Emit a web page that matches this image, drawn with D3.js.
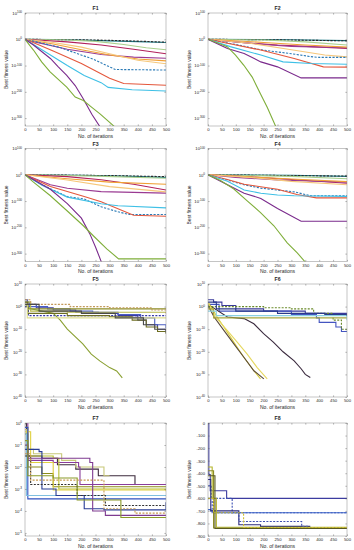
<!DOCTYPE html>
<html>
<head>
<meta charset="utf-8">
<title>Convergence curves F1-F8</title>
<script src="https://d3js.org/d3.v7.min.js"></script>
<style>
body { margin: 0; background: #fff; }
svg text { font-family: "Liberation Sans", Arial, sans-serif; fill: #262626; }
</style>
</head>
<body>
<svg id="chart" width="354" height="550"></svg>
<script>
// ---- data ----
const titles = ["F1", "F2", "F3", "F4", "F5", "F6", "F7", "F8"];
const iterTicks = [0, 50, 100, 150, 200, 250, 300, 350, 400, 450, 500];
const iterDomain = [0, 500];

// log panels store the exponent (value = 10^e)
const bigTicks = [100, 0, -100, -200, -300];
const bigDomain = [-330, 100];
const midTicks = [10, 0, -10, -20, -30, -40];
const midDomain = [-40, 10];
const smallTicks = [0, -1, -2, -3, -4, -5];
const smallDomain = [-5.14, 0];
const linTicks = [0, -100, -200, -300, -400, -500, -600, -700, -800, -900];
const linDomain = [-900, 0];

// F1..F4: teal, black dashed, light green, crimson, purple, orange, light orange,
// blue dashed, red, cyan, dark purple, green
const f1Lines = [
  [[0,0],[100,-1],[200,-3],[300,-6],[400,-9],[500,-12]],
  [[0,0],[100,-1],[200,-2],[300,-4],[400,-7],[500,-11]],
  [[0,0],[150,-3],[250,-8],[350,-20],[430,-32],[500,-40]],
  [[0,0],[150,-10],[270,-22],[385,-38],[500,-55]],
  [[0,0],[30,-9],[150,-38],[270,-58],[385,-68],[500,-72]],
  [[0,0],[100,-18],[200,-40],[300,-60],[400,-75],[500,-82]],
  [[0,0],[100,-12],[200,-30],[300,-55],[400,-80],[500,-93]],
  [[0,0],[50,-12],[120,-30],[240,-75],[320,-115],[500,-117]],
  [[0,0],[50,-22],[100,-45],[200,-92],[300,-148],[350,-168],[500,-175]],
  [[0,0],[60,-40],[150,-100],[210,-138],[270,-165],[295,-183],[380,-192],[500,-197]],
  [[0,0],[30,-22],[90,-73],[118,-105],[148,-137],[178,-176],[207,-227],[237,-285],[267,-335]],
  [[0,0],[30,-41],[59,-86],[89,-124],[148,-182],[178,-220],[207,-233],[237,-259],[267,-285],[320,-335]]
];
const f2Lines = [
  [[0,0],[300,-2],[500,-5]],
  [[0,0],[250,-2],[500,-6]],
  [[0,0],[200,-3],[350,-10],[500,-22]],
  [[0,0],[130,-13],[250,-22],[370,-28],[500,-35]],
  [[0,0],[100,-10],[200,-20],[300,-27],[500,-32]],
  [[0,0],[200,-12],[350,-22],[500,-30]],
  [[0,0],[150,-15],[300,-40],[420,-60],[500,-67]],
  [[0,0],[100,-20],[190,-40],[300,-55],[370,-66],[400,-69],[500,-69]],
  [[0,0],[70,-15],[190,-41],[310,-73],[415,-105],[500,-106]],
  [[0,0],[80,-28],[190,-60],[270,-86],[370,-92],[500,-95]],
  [[0,0],[70,-35],[130,-54],[190,-86],[250,-105],[335,-147],[500,-147]],
  [[0,0],[69,-28],[99,-60],[129,-99],[159,-144],[189,-208],[213,-259],[245,-335]]
];
const f3Lines = [
  [[0,0],[200,-2],[350,-5],[500,-10]],
  [[0,0],[300,-3],[500,-7]],
  [[0,0],[250,-5],[500,-13]],
  [[0,0],[150,-7],[270,-19],[385,-36],[500,-58]],
  [[0,0],[90,-38],[150,-51],[270,-64],[500,-70]],
  [[0,0],[150,-15],[300,-28],[500,-36]],
  [[0,0],[150,-20],[300,-45],[500,-65]],
  [[0,0],[60,-38],[150,-83],[210,-92],[270,-122],[330,-141],[370,-151],[500,-151]],
  [[0,0],[90,-45],[210,-83],[270,-103],[385,-154],[500,-158]],
  [[0,0],[60,-40],[150,-85],[270,-110],[330,-118],[500,-126]],
  [[0,0],[40,-25],[90,-55],[150,-110],[200,-165],[230,-225],[250,-275],[272,-335]],
  [[0,0],[30,-28],[89,-79],[148,-136],[207,-194],[243,-233],[290,-282],[332,-320],[500,-320]]
];
const f4Lines = [
  [[0,0],[300,-2],[500,-6]],
  [[0,0],[500,-5]],
  [[0,0],[300,-6],[500,-15]],
  [[0,0],[150,-8],[300,-18],[500,-32]],
  [[0,0],[100,-10],[250,-20],[500,-28]],
  [[0,0],[150,-8],[300,-16],[500,-26]],
  [[0,0],[150,-10],[300,-25],[500,-38]],
  [[0,0],[70,-20],[130,-38],[190,-51],[250,-58],[310,-65],[370,-80],[500,-80]],
  [[0,0],[70,-18],[130,-36],[250,-55],[320,-75],[390,-88],[500,-88]],
  [[0,0],[70,-25],[130,-58],[190,-70],[250,-77],[310,-80],[500,-82]],
  [[0,0],[70,-38],[130,-70],[190,-90],[250,-128],[335,-177],[500,-177]],
  [[0,0],[45,-22],[93,-54],[141,-99],[189,-144],[237,-194],[285,-259],[321,-297],[352,-335]]
];
const f5Lines = [
  [[0,3],[8,1],[40,-0.5],[100,-1.5],[180,-2.5],[260,-3],[330,-4],[400,-6],[430,-8],[470,-10],[500,-11]],
  [[0,2],[15,0],[80,-1],[160,-2],[240,-2.5],[330,-3.5],[410,-5],[460,-8],[500,-9.5]],
  [[0,0],[12,-4],[500,-4]],
  [[0,1],[10,-1],[500,-1]],
  [[0,2],[20,-2],[150,-2.5],[500,-2.5]],
  [[0,3],[20,1],[150,1],[160,0],[300,-0.5],[450,-1.5],[500,-3]],
  [[0,1],[20,-1],[100,-3],[125,-6],[150,-10],[205,-16.5],[235,-21],[265,-24],[300,-27],[325,-28.5],[345,-31.5]],
  [[0,2],[10,-3],[150,-4],[300,-4.5],[380,-6],[430,-9],[470,-11],[500,-12]],
  [[0,1],[8,-5],[500,-5]],
  [[0,1],[50,-2],[200,-3],[320,-5],[420,-8],[460,-10],[500,-11.5]]
];
const f6Lines = [
  [[0,3],[20,2],[50,0.5],[100,-1],[200,-2],[350,-3],[500,-3]],
  [[0,1],[40,-2],[300,-3.5],[390,-5],[400,-7],[460,-9],[480,-11],[500,-11]],
  [[0,1],[70,-4.6],[130,-5.3],[165,-7.6],[200,-12],[235,-15.7],[270,-20],[310,-24],[335,-27.5],[350,-30],[368,-31.4]],
  [[0,2],[33,-4.6],[57,-9],[81,-13.5],[105,-18],[129,-22.4],[165,-28.4],[189,-32]],
  [[0,1.5],[27,-4.6],[69,-10.5],[105,-15.7],[141,-21],[177,-27],[213,-32]],
  [[0,0.5],[22,-4.6],[57,-10.5],[93,-16.5],[129,-22.4],[165,-28.4],[201,-32]],
  [[0,0],[40,0],[200,-0.5],[300,-1],[380,-3],[450,-6],[480,-10],[500,-10]],
  [[0,-1],[20,-5],[500,-5]],
  [[0,-2],[30,-4],[500,-6]],
  [[0,2],[30,-1],[100,-2],[250,-3],[420,-3.5],[500,-4]]
];
const f7Lines = [
  [[0,0.2],[5,-1.5],[60,-1.6],[115,-1.9],[180,-2.1],[260,-2.4],[390,-2.8],[500,-2.8]],
  [[0,-0.3],[5,-1.2],[30,-1.4],[130,-1.7],[180,-2.0],[280,-2.4],[300,-2.4]],
  [[0,0.2],[10,-1.7],[100,-1.8],[190,-2.0],[195,-2.8],[500,-2.8]],
  [[0,-0.5],[10,-2.0],[60,-2.3],[100,-2.9],[500,-2.9]],
  [[0,-0.2],[10,-1.5],[100,-1.6],[120,-3.0],[500,-3.0]],
  [[0,-0.4],[20,-1.8],[100,-3.05],[500,-3.1]],
  [[0,-0.2],[10,-3.45],[500,-3.45]],
  [[0,-0.5],[5,-3.3],[500,-3.3]],
  [[0,-1.2],[50,-1.3],[60,-3.0],[110,-3.3],[210,-3.9],[280,-3.95],[500,-3.6]],
  [[0,-1.5],[20,-2.8],[180,-2.8],[185,-3.3],[280,-3.3],[285,-3.75],[500,-3.75]],
  [[0,-1.0],[10,-1.6],[230,-1.8],[240,-4.0],[280,-4.0],[285,-4.2],[500,-4.2]],
  [[0,-0.8],[10,-2.4],[100,-2.5],[185,-3.5],[335,-3.5],[340,-4.3],[500,-4.3]],
  [[0,-1.4],[20,-2.6],[280,-3.9],[390,-4.1],[500,-4.1]]
];
const f8Lines = [
  [[0,0],[3,-410],[8,-540],[67,-600],[500,-600]],
  [[0,-500],[12,-600],[87,-715],[500,-715]],
  [[0,-690],[10,-700],[20,-715],[500,-715]],
  [[0,-450],[10,-700],[111,-810],[189,-823],[368,-823]],
  [[0,-600],[15,-715],[111,-785],[337,-823],[360,-823]],
  [[0,-350],[15,-600],[30,-830],[500,-832]],
  [[0,-380],[20,-836],[500,-836]],
  [[0,-420],[25,-840],[500,-840]],
  [[0,-600],[20,-715],[128,-832],[500,-832]]
];

// ---- styles ----
const stylesA = [
  {c: "#1b7a86"}, {c: "#2b2b2b", d: "2.2,1.4"}, {c: "#a8d08d"}, {c: "#b1205a"},
  {c: "#9a3a92"}, {c: "#f0a035"}, {c: "#f6c77a"}, {c: "#2c7bb6", d: "2.2,1.4"},
  {c: "#e4573c"}, {c: "#3fc0e6"}, {c: "#7a2a8c"}, {c: "#7fae3a"}
];
const stylesF5 = [
  {c: "#3d3d9e", s: 1}, {c: "#4a5cc4", s: 1}, {c: "#3838a8", d: "2,1.4", s: 1},
  {c: "#8d8d26", s: 1}, {c: "#b8b84a", s: 1}, {c: "#c49a5a", d: "2,1.4", s: 1},
  {c: "#8aa032"}, {c: "#6e6e22", s: 1}, {c: "#dede90", s: 1}, {c: "#4a4a4a", s: 1}
];
const stylesF6 = [
  {c: "#3a3a9a", s: 1}, {c: "#4455c0", s: 1}, {c: "#3a2a3e"}, {c: "#d8cc3a"},
  {c: "#e6d860"}, {c: "#5a4a3a"}, {c: "#6a8a2a", d: "2,1.4", s: 1},
  {c: "#a8a840", s: 1}, {c: "#8ad0e0", s: 1}, {c: "#2a3a8a", s: 1}
];
const stylesF7 = [
  {c: "#3d2b3d", s: 1}, {c: "#c8c878", s: 1}, {c: "#8a3d9a", s: 1}, {c: "#8c8c1a", s: 1},
  {c: "#b8c030", s: 1}, {c: "#e0d040", s: 1}, {c: "#3050c0", s: 1}, {c: "#80c0e0", s: 1},
  {c: "#283c96", s: 1}, {c: "#333333", d: "2,1.4", s: 1}, {c: "#7e3a90", s: 1},
  {c: "#8a9a28", s: 1}, {c: "#c89a50", d: "2,1.4", s: 1}
];
const stylesF8 = [
  {c: "#3c3ca0", s: 1}, {c: "#3c50b4", d: "2,1.4", s: 1}, {c: "#3c64c8", s: 1},
  {c: "#2c2c7a", s: 1}, {c: "#4050b0", d: "2,1.4", s: 1}, {c: "#b4b428", s: 1},
  {c: "#8c8c28", s: 1}, {c: "#5a5a20", s: 1}, {c: "#d0c030", d: "2,1.4", s: 1}
];

const svg = d3.select("#chart");
const colX = [[25, 166], [208, 347]];
const rowY = [13, 148.5, 284, 423];
const PH = 113;

const panels = [
  {lines: f1Lines, styles: stylesA, dom: bigDomain, ticks: bigTicks, log: true},
  {lines: f2Lines, styles: stylesA, dom: bigDomain, ticks: bigTicks, log: true},
  {lines: f3Lines, styles: stylesA, dom: bigDomain, ticks: bigTicks, log: true},
  {lines: f4Lines, styles: stylesA, dom: bigDomain, ticks: bigTicks, log: true},
  {lines: f5Lines, styles: stylesF5, dom: midDomain, ticks: midTicks, log: true},
  {lines: f6Lines, styles: stylesF6, dom: midDomain, ticks: midTicks, log: true},
  {lines: f7Lines, styles: stylesF7, dom: smallDomain, ticks: smallTicks, log: true},
  {lines: f8Lines, styles: stylesF8, dom: linDomain, ticks: linTicks, log: false}
];

panels.forEach((p, i) => {
  const [x0, x1] = colX[i % 2];
  const y0 = rowY[Math.floor(i / 2)];
  const y1 = y0 + PH;
  const x = d3.scaleLinear().domain(iterDomain).range([x0, x1]);
  const y = d3.scaleLinear().domain(p.dom).range([y1, y0]);
  const g = svg.append("g");

  const clipId = "clip" + i;
  g.append("clipPath").attr("id", clipId)
    .append("rect").attr("x", x0).attr("y", y0).attr("width", x1 - x0).attr("height", PH);

  const plot = g.append("g").attr("clip-path", `url(#${clipId})`);
  p.lines.forEach((pts, k) => {
    const st = p.styles[k];
    const line = d3.line()
      .x(d => x(d[0]))
      .y(d => y(d[1]))
      .curve(st.s ? d3.curveStepAfter : d3.curveLinear);
    plot.append("path")
      .datum(pts)
      .attr("d", line)
      .attr("fill", "none")
      .attr("stroke", st.c)
      .attr("stroke-width", 1.1)
      .attr("stroke-dasharray", st.d || null);
  });

  const tickStyle = s => {
    s.select(".domain").remove();
    s.selectAll("line").attr("stroke", "#444").attr("stroke-width", 0.4);
    s.selectAll("text").attr("font-size", 4.2).attr("fill", "#262626");
  };

  g.append("g").attr("transform", `translate(0,${y1})`)
    .call(d3.axisBottom(x).tickValues(iterTicks).tickSizeInner(-1.6).tickSizeOuter(0).tickPadding(2.5))
    .call(tickStyle);
  g.append("g").attr("transform", `translate(0,${y0})`)
    .call(d3.axisTop(x).tickValues(iterTicks).tickSizeInner(-1.6).tickSizeOuter(0).tickFormat(""))
    .call(tickStyle);

  g.append("g").attr("transform", `translate(${x0},0)`)
    .call(d3.axisLeft(y).tickValues(p.ticks).tickSizeInner(-1.6).tickSizeOuter(0).tickPadding(3)
      .tickFormat(d => String(d)))
    .call(tickStyle)
    .call(s => {
      if (!p.log) return;
      s.selectAll("text").each(function(d) {
        const t = d3.select(this).text(null);
        t.append("tspan").text("10");
        t.append("tspan").attr("dy", -1.8).attr("font-size", 3).text(String(d));
      });
    });
  g.append("g").attr("transform", `translate(${x1},0)`)
    .call(d3.axisRight(y).tickValues(p.ticks).tickSizeInner(-1.6).tickSizeOuter(0).tickFormat(""))
    .call(tickStyle);

  g.append("rect")
    .attr("x", x0).attr("y", y0).attr("width", x1 - x0).attr("height", PH)
    .attr("fill", "none").attr("stroke", "#8a8a8a").attr("stroke-width", 0.5);

  g.append("text")
    .attr("x", (x0 + x1) / 2).attr("y", y0 - 3)
    .attr("text-anchor", "middle").attr("font-size", 5.2).attr("font-weight", "bold")
    .text(titles[i]);

  g.append("text")
    .attr("x", (x0 + x1) / 2).attr("y", y1 + 11.5)
    .attr("text-anchor", "middle").attr("font-size", 5)
    .text("No. of iterations");

  g.append("text")
    .attr("transform", `translate(${x0 - 17},${(y0 + y1) / 2}) rotate(-90)`)
    .attr("text-anchor", "middle").attr("font-size", 5)
    .text("Best fitness value");
});
</script>
</body>
</html>
